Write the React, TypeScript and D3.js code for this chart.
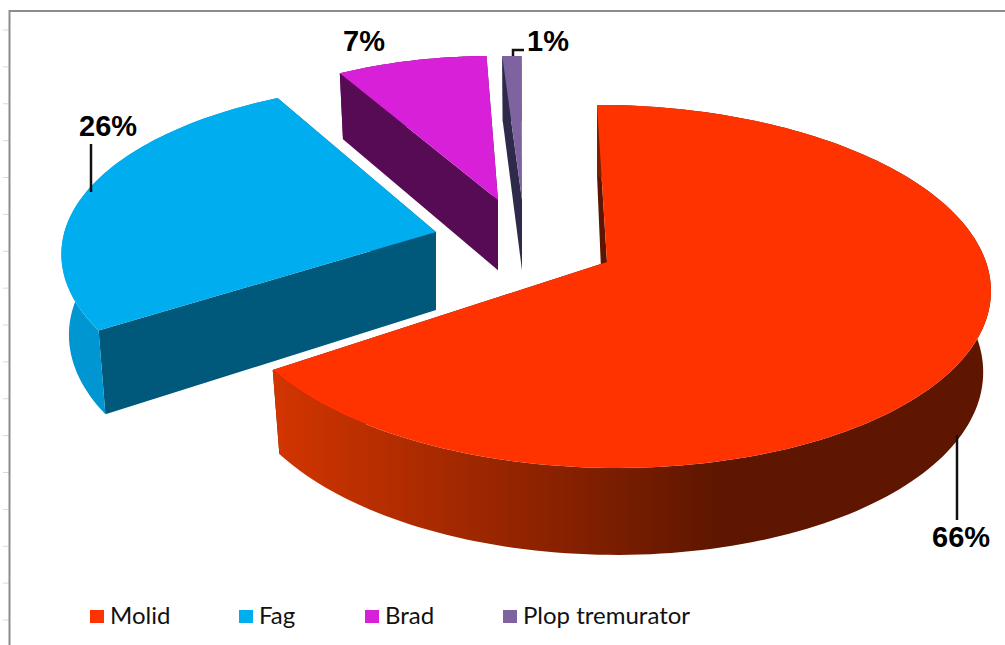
import * as d3 from "d3";

const categories = ["Molid", "Fag", "Brad", "Plop tremurator"];
const values = [66, 26, 7, 1];
const topColors = ["#ff3300", "#00aeef", "#d920d9", "#7f63a1"];
const wallColors = ["#5c1500", "#00587a", "#570b55", "#2e2a4a"];
const curveColors = ["url(#molidWall)", "#0096d2", "#570b55", "#2e2a4a"];

// exploded slice tips, perspective shrink, and small per-slice fitting nudges
const tips = [
  { x: 607, y: 262, s: 1, sy: 1, xo: -5, yo: 3, d0: 0, d1: -0.015, lx: -3 },
  { x: 436, y: 232, s: 1, sy: 0.97, xo: 2, yo: 6, d0: 0.04, d1: 0.03, lx: 0 },
  { x: 498, y: 200, s: 0.9, sy: 1, xo: 0, yo: 0, d0: -0.02, d1: 0.04, lx: 0 },
  { x: 522, y: 200, s: 0.9, sy: 1, xo: 4, yo: 0, d0: 0, d1: 0, lx: 0 },
];

const labels = [
  { text: "66%", x: 932, y: 547 },
  { text: "26%", x: 79, y: 136 },
  { text: "7%", x: 343, y: 51 },
  { text: "1%", x: 527, y: 51 },
];
const leaders = ["M957 435V520", "M91 144V192", "", "M513 56V50H524"];
const legendX = [90, 239, 365, 503];

const width = 1005;
const height = 645;
const rx = 380;
const ry = 179;
const persp = 0.118;

const tickY = d3.scaleLinear().domain([0, 16]).range([30, 620]);

type Pt = [number, number];

// project an angle on the pie rim to the screen, top or bottom face
function rim(i: number, a: number, lower: boolean): Pt {
  const { x, y, s, sy, xo, yo } = tips[i];
  const c = Math.cos(a);
  const w = 1 + persp * c;
  const k = lower ? 0.98 : 1;
  const px = 5 - 10 * c + (rx * Math.sin(a)) / w;
  const py = (-ry * sy * c) / w;
  const d = lower ? 80 - 11 * c : 0;
  return [x + xo + s * k * px, y + yo + s * (k * py + d)];
}

function tip(i: number, lower: boolean): Pt {
  return lower
    ? [tips[i].x + tips[i].lx, tips[i].y + tips[i].s * 78]
    : [tips[i].x, tips[i].y];
}

const line = d3.line<Pt>();

function arcPts(i: number, a0: number, a1: number, lower: boolean): Pt[] {
  const n = Math.max(4, Math.ceil((a1 - a0) * 40));
  return d3.range(n + 1).map((k) => rim(i, a0 + ((a1 - a0) * k) / n, lower));
}

const pie = d3.pie<number>().sort(null).value((d) => d);
const slices = pie(values);

export default function App() {
  const order = [3, 2, 1, 0];
  return (
    <svg
      width={width}
      height={height}
      style={{ position: "absolute", left: 0, top: 0, background: "#fff" }}
    >
      <defs>
        <linearGradient id="molidWall" gradientUnits="userSpaceOnUse" x1={275} x2={720} y1={0} y2={0}>
          <stop offset="0" stopColor="#d23500" />
          <stop offset="1" stopColor="#5e1600" />
        </linearGradient>
      </defs>

      {d3.range(17).map((k) => (
        <line key={k} x1={3} x2={9} y1={tickY(k)} y2={tickY(k)} stroke="#d9d9d9" strokeWidth={1} />
      ))}
      <path d={`M1005 11H9.5V645`} fill="none" stroke="#8c8c8c" strokeWidth={2} />

      {order.map((i) => {
        const a0 = slices[i].startAngle + tips[i].d0;
        const a1 = slices[i].endAngle + tips[i].d1;
        const top = arcPts(i, a0, a1, false);
        const bottom = arcPts(i, a0, a1, true);
        return (
          <g key={categories[i]}>
            <path
              d={line([tip(i, false), tip(i, true), rim(i, a1, true), rim(i, a1, false)]) + "Z"}
              fill={wallColors[i]}
            />
            <path
              d={line([tip(i, false), tip(i, true), rim(i, a0, true), rim(i, a0, false)]) + "Z"}
              fill={wallColors[i]}
            />
            <path d={line([...top, ...bottom.slice().reverse()]) + "Z"} fill={curveColors[i]} />
            <path d={line([tip(i, false), ...top]) + "Z"} fill={topColors[i]} />
          </g>
        );
      })}

      {leaders.map((d, i) =>
        d ? <path key={i} d={d} fill="none" stroke="#111" strokeWidth={2.5} /> : null,
      )}
      {labels.map((l) => (
        <text
          key={l.text}
          x={l.x}
          y={l.y}
          fontFamily="Liberation Sans"
          fontWeight="bold"
          fontSize={29}
          fill="#000"
        >
          {l.text}
        </text>
      ))}

      {categories.map((c, i) => (
        <g key={c}>
          <rect x={legendX[i]} y={610} width={14} height={13} fill={topColors[i]} />
          <text x={legendX[i] + 20} y={624} fontFamily="Lato" fontSize={24} fill="#111">
            {c}
          </text>
        </g>
      ))}
    </svg>
  );
}
